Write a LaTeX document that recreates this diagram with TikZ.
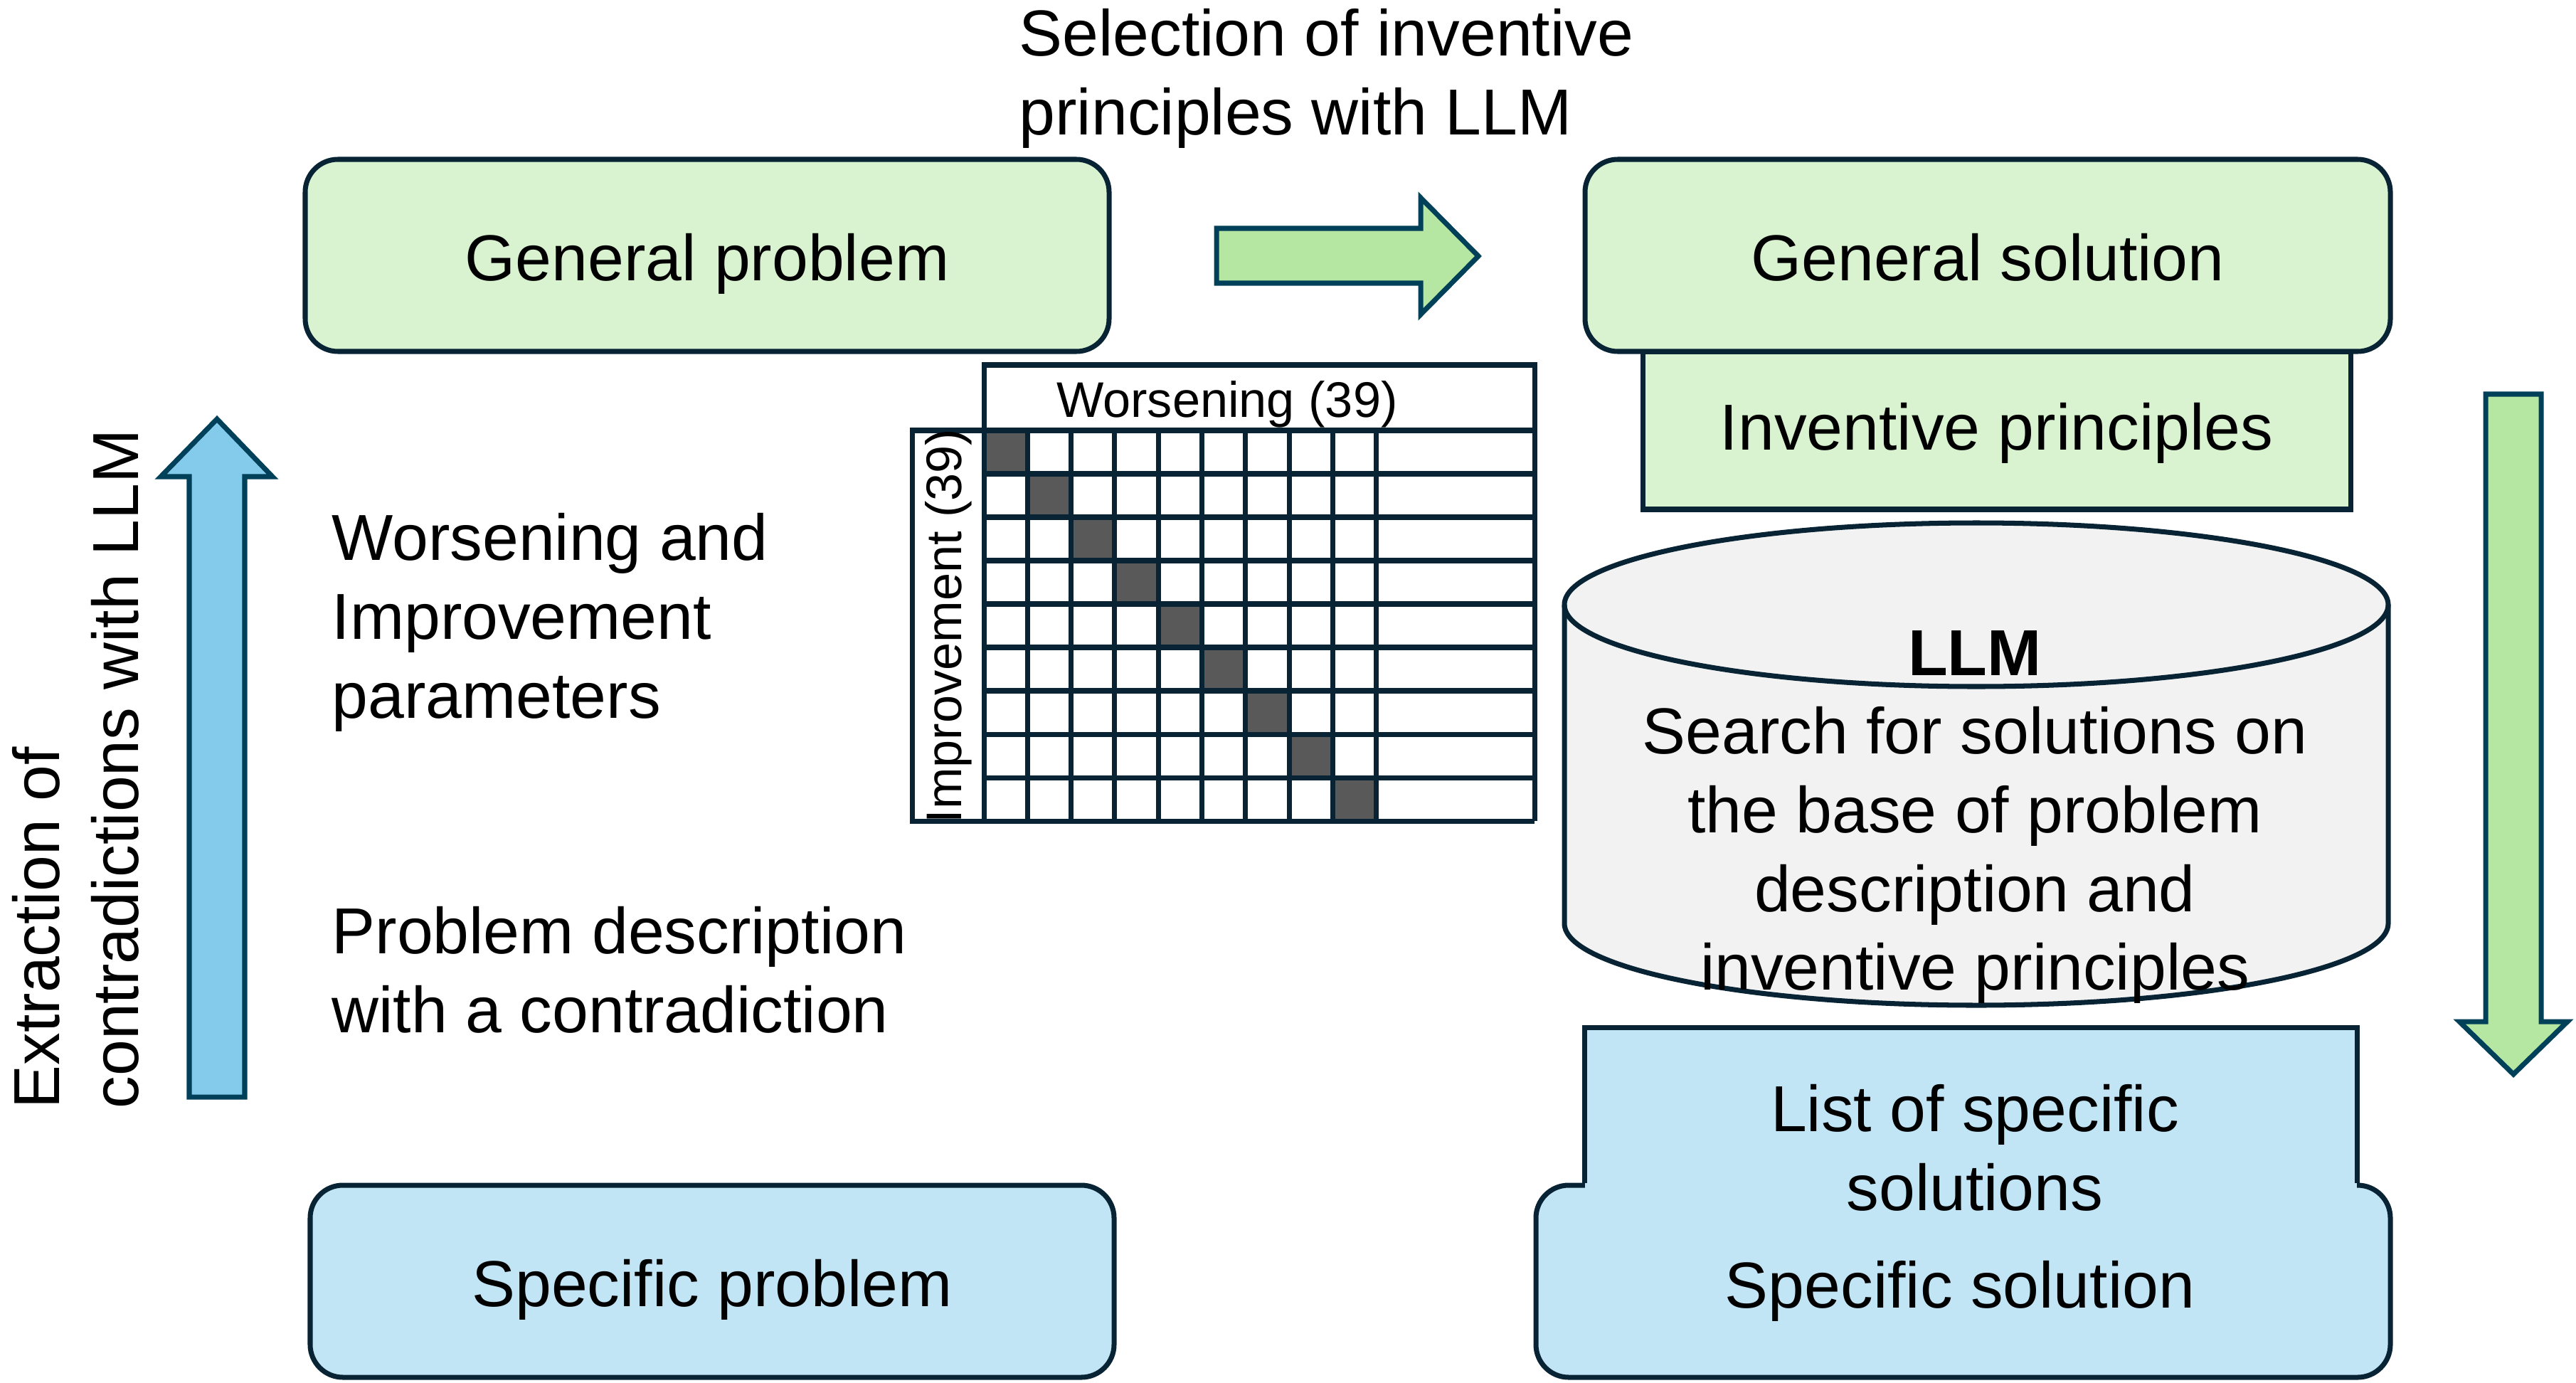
\documentclass[tikz,border=0pt]{standalone}
\usepackage{fontspec}
\setmainfont{Liberation Sans}
\usetikzlibrary{positioning}

\definecolor{boxline}{RGB}{8,36,52}
\definecolor{arrowline}{RGB}{0,64,89}
\definecolor{lightgreen}{RGB}{217,242,208}
\definecolor{arrowgreen}{RGB}{181,230,162}
\definecolor{lightblue}{RGB}{193,229,245}
\definecolor{arrowblue}{RGB}{131,202,235}
\definecolor{cylgray}{RGB}{242,242,242}
\definecolor{cellgray}{RGB}{89,89,89}

\begin{document}
\begin{tikzpicture}[
    bigtext/.style={font=\fontsize{26}{31.5}\selectfont, align=center, inner sep=0pt},
    lefttext/.style={bigtext, align=left, anchor=west},
    box/.style={rectangle, draw=boxline, line width=2pt, bigtext,
                minimum height=2.7cm, text height=25.5pt, text depth=5.5pt},
    greenbox/.style={box, fill=lightgreen, rounded corners=0.46cm, minimum width=11.3cm},
    bluebox/.style={box, fill=lightblue, rounded corners=0.46cm, minimum width=11.3cm},
    flatbox/.style={box, fill=lightgreen, minimum width=9.95cm, minimum height=2.22cm,
                    text height=21pt},
    blockarrow/.style={line width=2pt, draw=arrowline, line join=miter},
    gridline/.style={draw=boxline, line width=2pt},
    smalltext/.style={font=\fontsize{20}{24}\selectfont, inner sep=0pt}
  ]
    \useasboundingbox (0,0) rectangle (36.21,-19.43);

    % upper row
    \node[greenbox] (genprob) at (9.94,-3.59) {General problem};
    \node[flatbox] (invprin) at (28.065,-6.05) {Inventive principles};
    \node[greenbox, minimum width=11.32cm] (gensol) at (27.94,-3.59) {General solution};
    \node[lefttext] (seltxt) at (14.32,-1.105) {Selection of inventive\\principles with LLM};
    \draw[blockarrow, fill=arrowgreen] (17.10,-3.21) -- (19.97,-3.21) -- (19.97,-2.78)
      -- (20.78,-3.60) -- (19.97,-4.42) -- (19.97,-3.98) -- (17.10,-3.98) -- cycle;

    % lower row
    \node[bluebox] (specprob) at (10.01,-18.01) {Specific problem};
    \node[bluebox, minimum width=12.01cm] (specsol) at (27.595,-18.01) {};
    \node[rectangle, fill=lightblue, minimum width=10.85cm, minimum height=2.35cm,
          inner sep=0pt] (listbox) at (27.705,-15.625) {};
    \draw[gridline] (listbox.south west |- specsol.north) -- (listbox.north west)
      -- (listbox.north east) -- (listbox.south east |- specsol.north);
    \node[bigtext] (listtxt) at (27.76,-16.13) {List of specific\\solutions};
    \node[bigtext] (soltxt) at (27.55,-18.15) {Specific solution};

    % left side
    \draw[blockarrow, fill=arrowblue] (2.66,-15.42) -- (2.66,-6.70) -- (2.26,-6.70)
      -- (3.05,-5.89) -- (3.83,-6.70) -- (3.44,-6.70) -- (3.44,-15.42) -- cycle;
    \node[lefttext, rotate=90] (extrtxt) at (1.065,-15.59) {Extraction of\\contradictions with LLM};
    \node[lefttext] (paramtxt) at (4.66,-8.75) {Worsening and\\Improvement\\parameters};
    \node[lefttext] (desctxt) at (4.66,-13.635) {Problem description\\with a contradiction};

    % contradiction matrix
    \foreach \i in {0,...,8}
      \fill[cellgray] (13.83+\i*0.613,-6.05-\i*0.61) rectangle ++(0.613,-0.61);
    \draw[gridline] (13.83,-5.13) rectangle (21.57,-6.05);
    \draw[gridline] (12.82,-6.05) rectangle (13.83,-11.54);
    \foreach \j in {0,...,9}
      \draw[gridline] (13.83,-6.05-\j*0.61) -- (21.57,-6.05-\j*0.61);
    \foreach \i in {0,...,9}
      \draw[gridline] (13.83+\i*0.613,-6.05) -- (13.83+\i*0.613,-11.54);
    \draw[gridline] (21.57,-6.05) -- (21.57,-11.54);
    \node[smalltext] (worstxt) at (17.25,-5.68) {Worsening (39)};
    \node[smalltext, rotate=90] (imprtxt) at (13.33,-8.80) {Improvement (39)};

    % LLM cylinder
    \draw[line width=2pt, draw=boxline, fill=cylgray] (21.99,-8.50) -- (21.99,-12.98)
      arc[start angle=180, end angle=360, x radius=5.79, y radius=1.15] -- (33.57,-8.50)
      arc[start angle=0, end angle=180, x radius=5.79, y radius=1.15] -- cycle;
    \draw[line width=2pt, draw=boxline] (21.99,-8.50)
      arc[start angle=180, end angle=360, x radius=5.79, y radius=1.15];
    \node[bigtext] (llmtxt) at (27.76,-11.485) {\textbf{LLM}\\Search for solutions on\\the base of problem\\description and\\inventive principles};

    % right side
    \draw[blockarrow, fill=arrowgreen] (34.94,-5.54) -- (35.72,-5.54) -- (35.72,-14.36)
      -- (36.09,-14.36) -- (35.33,-15.10) -- (34.57,-14.36) -- (34.94,-14.36) -- cycle;
\end{tikzpicture}
\end{document}
